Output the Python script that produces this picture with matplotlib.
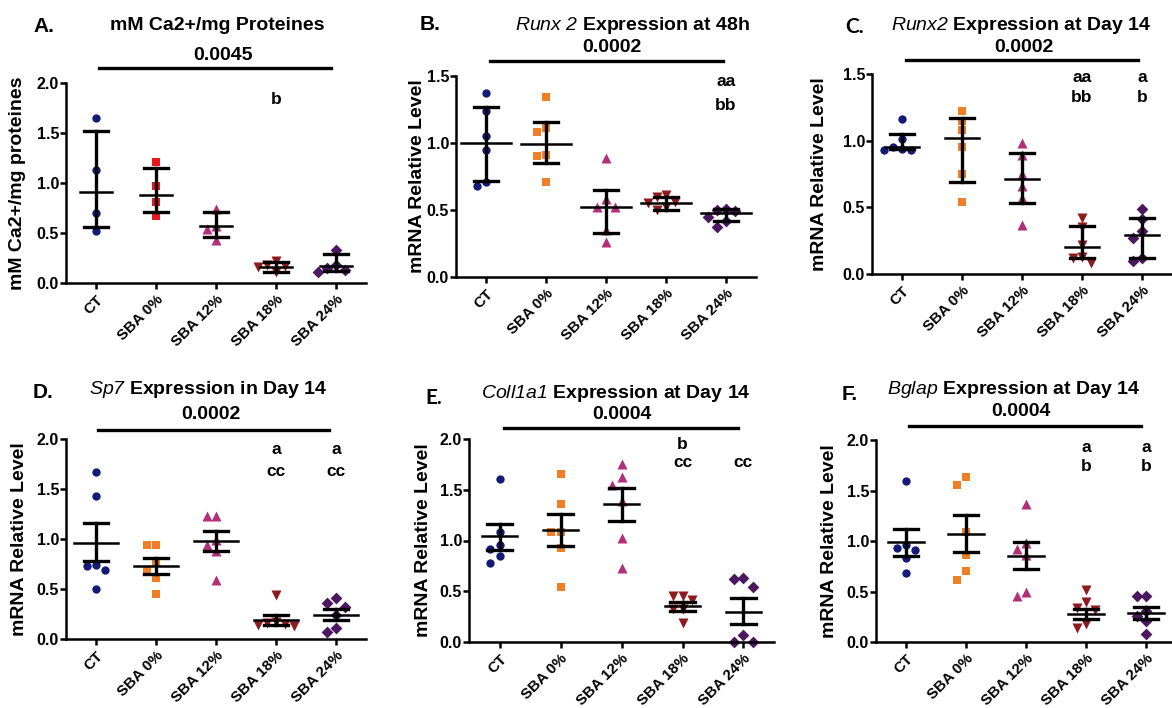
import numpy as np
import matplotlib
matplotlib.use("Agg")
import matplotlib.pyplot as plt

plt.rcParams['font.family'] = ['Liberation Sans', 'DejaVu Sans']
plt.rcParams['mathtext.fontset'] = 'custom'
plt.rcParams['mathtext.it'] = 'Liberation Sans:italic'
plt.rcParams['mathtext.rm'] = 'Liberation Sans:italic'

groups = ["CT", "SBA 0%", "SBA 12%", "SBA 18%", "SBA 24%"]

# A. mM Ca2+/mg proteines
a_vals = [[1.65, 1.13, 0.70, 0.52],
          [1.21, 0.97, 0.81, 0.67],
          [0.74, 0.57, 0.54, 0.43],
          [0.22, 0.18, 0.17, 0.16, 0.11],
          [0.33, 0.18, 0.15, 0.13, 0.11]]
a_mean = [0.91, 0.88, 0.57, 0.16, 0.17]
a_lo = [0.56, 0.71, 0.46, 0.11, 0.12]
a_hi = [1.52, 1.15, 0.71, 0.21, 0.29]

# B. Runx2 48h
b_vals = [[1.37, 1.24, 1.05, 0.95, 0.71, 0.68],
          [1.34, 1.11, 1.08, 0.91, 0.90, 0.71],
          [0.89, 0.58, 0.52, 0.52, 0.35, 0.26],
          [0.61, 0.60, 0.56, 0.55, 0.52, 0.50],
          [0.51, 0.50, 0.49, 0.45, 0.42, 0.37]]
b_mean = [1.00, 0.99, 0.52, 0.55, 0.48]
b_lo = [0.72, 0.85, 0.33, 0.50, 0.42]
b_hi = [1.27, 1.16, 0.65, 0.60, 0.51]

# C. Runx2 day 14
c_vals = [[1.16, 1.01, 0.95, 0.94, 0.93, 0.93],
          [1.22, 1.15, 1.08, 0.95, 0.75, 0.54],
          [0.98, 0.89, 0.75, 0.66, 0.57, 0.37],
          [0.42, 0.35, 0.22, 0.13, 0.12, 0.08],
          [0.49, 0.41, 0.32, 0.27, 0.12, 0.10]]
c_mean = [0.95, 1.02, 0.71, 0.20, 0.29]
c_lo = [0.94, 0.69, 0.53, 0.12, 0.12]
c_hi = [1.05, 1.17, 0.91, 0.36, 0.42]

# D. Sp7 day 14
d_vals = [[1.67, 1.43, 0.74, 0.73, 0.69, 0.50],
          [0.94, 0.94, 0.77, 0.69, 0.61, 0.45],
          [1.23, 1.23, 0.99, 0.94, 0.88, 0.59],
          [0.44, 0.17, 0.16, 0.15, 0.14, 0.13],
          [0.41, 0.36, 0.32, 0.24, 0.11, 0.07]]
d_mean = [0.96, 0.73, 0.98, 0.19, 0.24]
d_lo = [0.78, 0.65, 0.88, 0.14, 0.19]
d_hi = [1.16, 0.81, 1.08, 0.24, 0.30]

# E. Coll1a1 day 14
e_vals = [[1.61, 1.08, 0.96, 0.92, 0.85, 0.78],
          [1.66, 1.36, 1.08, 1.08, 0.93, 0.54],
          [1.75, 1.63, 1.55, 1.39, 1.02, 0.73],
          [0.45, 0.45, 0.41, 0.33, 0.33, 0.19],
          [0.63, 0.62, 0.54, 0.07, 0.0, 0.0]]
e_mean = [1.04, 1.10, 1.36, 0.35, 0.30]
e_lo = [0.91, 0.95, 1.19, 0.31, 0.18]
e_hi = [1.16, 1.26, 1.52, 0.39, 0.43]

# F. Bglap day 14
f_vals = [[1.59, 0.96, 0.93, 0.91, 0.83, 0.68],
          [1.63, 1.55, 1.09, 0.86, 0.70, 0.61],
          [1.37, 0.98, 0.92, 0.86, 0.50, 0.46],
          [0.51, 0.40, 0.34, 0.32, 0.18, 0.14],
          [0.46, 0.46, 0.31, 0.26, 0.21, 0.08]]
f_mean = [0.99, 1.07, 0.85, 0.28, 0.29]
f_lo = [0.85, 0.89, 0.72, 0.23, 0.23]
f_hi = [1.12, 1.26, 0.99, 0.33, 0.35]

pvals = ["0.0045", "0.0002", "0.0002", "0.0002", "0.0004", "0.0004"]

a_notes = [(3, 1.84, "b")]
b_notes = [(4, 1.46, "aa"), (4, 1.28, "bb")]
c_notes = [(3, 1.47, "aa"), (3, 1.32, "bb"), (4, 1.47, "a"), (4, 1.32, "b")]
d_notes = [(3, 1.89, "a"), (3, 1.68, "cc"), (4, 1.89, "a"), (4, 1.68, "cc")]
e_notes = [(3, 1.95, "b"), (3, 1.77, "cc"), (4, 1.77, "cc")]
f_notes = [(3, 1.93, "a"), (3, 1.74, "b"), (4, 1.93, "a"), (4, 1.74, "b")]

colors = ["#141a78", "#f07e26", "#b32f78", "#8e1b1f", "#4b1860"]
markers = ["o", "s", "^", "v", "D"]
msizes = [36, 40, 52, 52, 36]

W, H = 1172, 708
fig = plt.figure(figsize=(W / 100, H / 100), dpi=100)


def fx(x):
    return x / W


def fy(y):
    return 1 - y / H


def swarm(vals, ymax):
    # simple beeswarm: shift points sideways when they would overlap
    tol = 9 * ymax / 200
    step = 0.15
    placed = []
    offs = [0.0] * len(vals)
    order = np.argsort(vals)[::-1]
    for i in order:
        for k in [0, -1, 1, -2, 2, -3, 3]:
            ok = all(abs(vals[i] - v) > tol or abs(k * step - o) > 0.9 * step
                     for v, o in placed)
            if ok:
                offs[i] = k * step
                placed.append((vals[i], k * step))
                break
    return offs


def panel(rect, ymax, vals, mean, lo, hi, ylabel, ylab_x, notes, mw=0.3, cols=colors):
    left, top, right, bottom = rect
    ax = fig.add_axes([fx(left), fy(bottom), (right - left) / W, (bottom - top) / H])
    ax.set_xlim(-0.5, 4.5)
    ax.set_ylim(0, ymax)
    for i, v in enumerate(vals):
        offs = swarm(v, ymax)
        ax.scatter(np.array(offs) + i, v, marker=markers[i], s=msizes[i],
                   color=cols[i], linewidths=0, zorder=2, clip_on=False)
        ax.plot([i - mw, i + mw], [mean[i], mean[i]], color="black", lw=1.8, zorder=3)
        ax.plot([i, i], [lo[i], hi[i]], color="black", lw=2.4, zorder=3)
        for yy in (lo[i], hi[i]):
            ax.plot([i - 0.2, i + 0.2], [yy, yy], color="black", lw=2.4, zorder=3)
    for x, y, t in notes:
        ax.text(x, y, t, ha="center", va="center", fontsize=12.5, fontweight="bold")
    for s in ["top", "right"]:
        ax.spines[s].set_visible(False)
    for s in ["left", "bottom"]:
        ax.spines[s].set_linewidth(1.8)
    ticks = np.arange(0, ymax + 0.01, 0.5)
    ax.set_yticks(ticks)
    ax.set_yticklabels([f"{t:.1f}" for t in ticks], fontsize=11.5, fontweight="bold")
    ax.set_xticks(range(5))
    ax.set_xticklabels(groups, rotation=45, ha="right", va="top",
                       rotation_mode="anchor", fontsize=11, fontweight="bold")
    ax.tick_params(axis="both", direction="out", length=4, width=1.8, pad=1)
    ax.tick_params(axis="x", pad=3)
    fig.text(fx(ylab_x), fy((top + bottom) / 2), ylabel, rotation=90, ha="center",
             va="center", fontsize=14, fontweight="bold")
    return ax


def header(letter, lx, ly, title, tx, ty, p, px, py, x0, x1, liney, calibri=False):
    if calibri:
        fig.text(fx(lx), fy(ly), letter, ha="left", va="center", fontsize=15,
                 fontweight="bold", family=["Lato", "DejaVu Sans"])
    else:
        fig.text(fx(lx), fy(ly), letter, ha="left", va="center", fontsize=15,
                 fontweight="bold")
    fig.text(fx(tx), fy(ty), title, ha="center", va="center", fontsize=14,
             fontweight="bold")
    fig.text(fx(px), fy(py), p, ha="center", va="center", fontsize=14,
             fontweight="bold")
    fig.add_artist(plt.Line2D([fx(x0), fx(x1)], [fy(liney), fy(liney)],
                              color="black", lw=2.4))


red_cols = ["#141a78", "#e8161e", "#b32f78", "#8e1b1f", "#4b1860"]

panel((66, 83, 366, 283), 2.0, a_vals, a_mean, a_lo, a_hi,
      "mM Ca2+/mg proteines", 18, a_notes, mw=0.27, cols=red_cols)
header("A.", 33, 26, "mM Ca2+/mg Proteines", 217, 26, pvals[0], 223, 55, 99, 331, 68)

panel((456, 76, 756, 277), 1.5, b_vals, b_mean, b_lo, b_hi,
      "mRNA Relative Level", 418, b_notes, mw=0.42)
header("B.", 420, 25, r"$Runx\ 2$ Expression at 48h", 632, 25, pvals[1], 612, 47,
       490, 723, 61)

panel((872, 74, 1172, 274), 1.5, c_vals, c_mean, c_lo, c_hi,
      "mRNA Relative Level", 820, c_notes, mw=0.28)
header("C.", 845, 27, r"$Runx2$ Expression at Day 14", 1021, 25, pvals[2], 1024, 47,
       906, 1138, 60, calibri=True)

panel((66, 439, 366, 639), 2.0, d_vals, d_mean, d_lo, d_hi,
      "mRNA Relative Level", 20, d_notes, mw=0.37)
header("D.", 33, 393, r"$Sp7$ Expression in Day 14", 208, 390, pvals[3], 211, 415,
       98, 329, 430)

panel((469, 439, 774, 642), 2.0, e_vals, e_mean, e_lo, e_hi,
      "mRNA Relative Level", 424, e_notes, mw=0.28)
header("E.", 425, 398, r"$Coll1a1$ Expression at Day 14", 616, 393, pvals[4], 622, 415,
       504, 738, 428, calibri=True)

panel((876, 440, 1176, 642), 2.0, f_vals, f_mean, f_lo, f_hi,
      "mRNA Relative Level", 830, f_notes, mw=0.3)
header("F.", 842, 395, r"$Bglap$ Expression at Day 14", 1014, 390, pvals[5], 1021, 412,
       909, 1141, 426)

fig.savefig("out.png", dpi=100)
